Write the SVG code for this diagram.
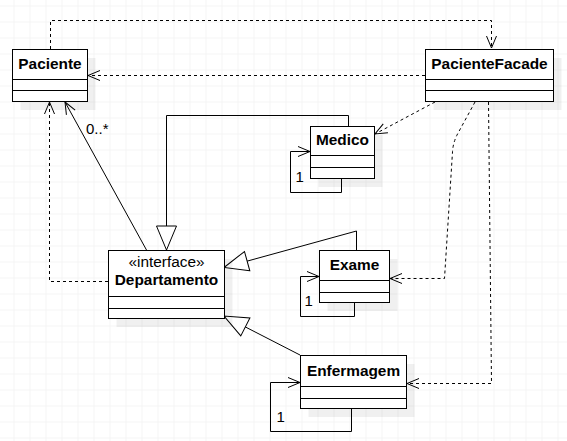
<svg xmlns="http://www.w3.org/2000/svg" width="567" height="441" viewBox="0 0 567 441">
<defs>
<pattern id="grid" x="13.5" y="5.5" width="16" height="16" patternUnits="userSpaceOnUse">
<path d="M0,0 H16 M0,0 V16" fill="none" stroke="#ebebeb" stroke-width="1"/>
</pattern>
<marker id="open" markerWidth="16" markerHeight="14" refX="13" refY="7" orient="auto" markerUnits="userSpaceOnUse">
<path d="M1,2 L13,7 L1,12" fill="none" stroke="#000" stroke-width="1" stroke-dasharray="none"/>
</marker>
<marker id="tri" markerWidth="28" markerHeight="24" refX="26" refY="12" orient="auto" markerUnits="userSpaceOnUse">
<path d="M2,2 L26,12 L2,22 Z" fill="#fff" stroke="#000" stroke-width="1" stroke-dasharray="none"/>
</marker>
</defs>
<style>
.box{fill:#fff;stroke:#000;stroke-width:1}
.sh{fill:#000;opacity:0.06}
.sep{stroke:#000;stroke-width:1}
.name{font-family:"Liberation Sans",Arial,sans-serif;font-weight:bold;font-size:15.4px;fill:#000;text-anchor:middle}
.ster{font-family:"Liberation Sans",Arial,sans-serif;font-size:15.4px;fill:#000;text-anchor:middle}
.lbl{font-family:"Liberation Sans",Arial,sans-serif;font-size:15px;fill:#000}
.dash{fill:none;stroke:#000;stroke-width:1;stroke-dasharray:3 3}
.solid{fill:none;stroke:#000;stroke-width:1}
</style>
<rect x="0" y="0" width="567" height="441" fill="#fff"/>
<rect x="0" y="0" width="567" height="441" fill="url(#grid)"/>

<g id="connectors">
<path class="dash" d="M50.5,49 V20.5 H491.5 V48" marker-end="url(#open)"/>
<path class="dash" d="M425,75.5 H88" marker-end="url(#open)"/>
<path class="dash" d="M435,102 L375,134" marker-end="url(#open)"/>
<path class="dash" d="M475,102 L457,135 Q453,143 452.5,152 L444.5,278.5 H390" marker-end="url(#open)"/>
<path class="dash" d="M488.5,102 L491.5,383.5 H407" marker-end="url(#open)"/>
<path class="dash" d="M108,281.5 H49.5 V102" marker-end="url(#open)"/>
<path class="solid" d="M146.5,250 L65,102" marker-end="url(#open)"/>
<path class="solid" d="M348.5,126 V115.5 H166.5 V250" marker-end="url(#tri)"/>
<path class="solid" d="M356.5,250 V231 L224,267.5" marker-end="url(#tri)"/>
<path class="solid" d="M300,355 L224,316" marker-end="url(#tri)"/>
<path class="solid" d="M341.5,178 V192.5 H290.5 V151.5 H310" marker-end="url(#open)"/>
<path class="solid" d="M354.5,302 V316.5 H300.5 V276.5 H319" marker-end="url(#open)"/>
<path class="solid" d="M351.5,408 V431.5 H270.5 V382.5 H300" marker-end="url(#open)"/>
<text class="lbl" x="86" y="133.5">0..*</text>
<text class="lbl" x="295.5" y="182">1</text>
<text class="lbl" x="304.5" y="306">1</text>
<text class="lbl" x="276.5" y="421.5">1</text>
</g>

<g id="Paciente">
<rect class="sh" x="20.5" y="58" width="75" height="52"/>
<rect class="box" x="12.5" y="49.5" width="75" height="52"/>
<path class="sep" d="M12.5,79.5 H87.5 M12.5,90.5 H87.5"/>
<text class="name" x="50" y="69">Paciente</text>
</g>

<g id="PacienteFacade">
<rect class="sh" x="433.5" y="58" width="128" height="52"/>
<rect class="box" x="425.5" y="49.5" width="128" height="52"/>
<path class="sep" d="M425.5,79.5 H553.5 M425.5,90.5 H553.5"/>
<text class="name" x="489.5" y="69">PacienteFacade</text>
</g>

<g id="Medico">
<rect class="sh" x="318.5" y="135" width="64" height="52"/>
<rect class="box" x="310.5" y="126.5" width="64" height="52"/>
<path class="sep" d="M310.5,155.5 H374.5 M310.5,167.5 H374.5"/>
<text class="name" x="342.5" y="144.5">Medico</text>
</g>

<g id="Departamento">
<rect class="sh" x="116.5" y="259" width="116" height="68"/>
<rect class="box" x="108.5" y="250.5" width="116" height="68"/>
<path class="sep" d="M108.5,296.5 H224.5 M108.5,308.5 H224.5"/>
<text class="ster" x="166.5" y="266.5">«interface»</text>
<text class="name" x="166.5" y="285">Departamento</text>
</g>

<g id="Exame">
<rect class="sh" x="327.5" y="259" width="70" height="52"/>
<rect class="box" x="319.5" y="250.5" width="70" height="52"/>
<path class="sep" d="M319.5,280.5 H389.5 M319.5,292.5 H389.5"/>
<text class="name" x="354.5" y="269.5">Exame</text>
</g>

<g id="Enfermagem">
<rect class="sh" x="308.5" y="364" width="106" height="53"/>
<rect class="box" x="300.5" y="355.5" width="106" height="53"/>
<path class="sep" d="M300.5,386.5 H406.5 M300.5,398.5 H406.5"/>
<text class="name" x="353.5" y="376">Enfermagem</text>
</g>
</svg>
